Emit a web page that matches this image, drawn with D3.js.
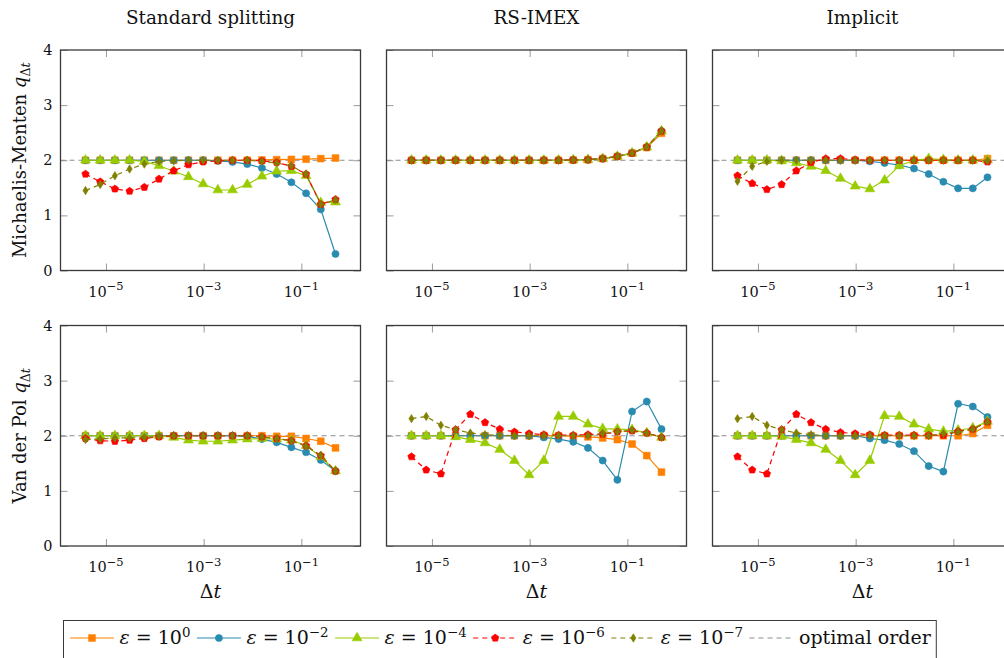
<!DOCTYPE html>
<html><head><meta charset="utf-8">
<script src="https://cdn.jsdelivr.net/npm/d3@7"></script>
<style>
html,body{margin:0;padding:0;background:#fff;overflow:hidden}
svg{display:block;font-family:"DejaVu Serif",serif;}
</style></head><body>
<svg id="chart" width="1004" height="658"></svg>
<script>
// step sizes Δt = 2^-18 ... 2^-1
const stepSizes = [3.814697265625e-6, 7.62939453125e-6, 1.52587890625e-5, 3.0517578125e-5,
  6.103515625e-5, 1.220703125e-4, 2.44140625e-4, 4.8828125e-4, 9.765625e-4, 1.953125e-3,
  3.90625e-3, 7.8125e-3, 0.015625, 0.03125, 0.0625, 0.125, 0.25, 0.5];

const columnTitles = ["Standard splitting", "RS-IMEX", "Implicit"];
const rowLabels = ["Michaelis-Menten", "Van der Pol"];
const xTickValues = [1e-5, 1e-3, 1e-1];
const xTickExponents = ["\u22125", "\u22123", "\u22121"];
const yTickValues = [0, 1, 2, 3, 4];
const optimalOrder = 2;

// Michaelis-Menten, standard splitting
const mmStd_e0 = [2,2,2,2,2,2,2,2,2,2,2,2,2.005,2.01,2.015,2.02,2.03,2.04];
const mmStd_e2 = [2,2,2,2,2,2,2,2,2,1.99,1.97,1.93,1.86,1.75,1.60,1.40,1.11,0.30];
const mmStd_e4 = [2,2,2,2,1.98,1.90,1.80,1.70,1.57,1.46,1.46,1.56,1.71,1.80,1.81,1.72,1.23,1.24];
const mmStd_e6 = [1.75,1.61,1.48,1.44,1.51,1.66,1.81,1.92,1.97,1.99,2,2,1.99,1.96,1.89,1.75,1.20,1.29];
const mmStd_e7 = [1.45,1.56,1.72,1.84,1.93,1.98,1.99,2,2,2,2,2,1.98,1.95,1.90,1.75,1.20,1.28];

// Michaelis-Menten, RS-IMEX
const mmRs_e0 = [2,2,2,2,2,2,2,2,2,2,2,2.005,2.01,2.03,2.07,2.13,2.23,2.49];
const mmRs_e2 = [2,2,2,2,2,2,2,2,2,2,2,2.005,2.01,2.03,2.07,2.13,2.24,2.53];
const mmRs_e4 = [2,2,2,2,2,2,2,2,2,2,2,2.005,2.01,2.03,2.07,2.13,2.24,2.53];
const mmRs_e6 = [2,2,2,2,2,2,2,2,2,2,2,2.005,2.01,2.03,2.07,2.13,2.24,2.53];
const mmRs_e7 = [2,2,2,2,2,2,2,2,2,2,2,2.005,2.01,2.03,2.07,2.13,2.24,2.53];

// Michaelis-Menten, implicit
const mmImp_e0 = [2,2,2,2,2,2,2,2,2,2,2,2,2,2,2,2,2,2.03];
const mmImp_e2 = [2,2,2,2,2,2,2,2,2,1.98,1.95,1.91,1.85,1.75,1.61,1.49,1.49,1.69];
const mmImp_e4 = [2,2,2,1.99,1.95,1.89,1.81,1.67,1.53,1.48,1.64,1.90,2,2.03,2.01,2,2,2];
const mmImp_e6 = [1.72,1.58,1.47,1.56,1.81,1.96,2.03,2.03,2.01,2,2,2,2,2,2,2,2,1.97];
const mmImp_e7 = [1.62,1.89,1.98,2,2,2,2,2,2,2,2,2,2,2,2,2,2,1.99];

// Van der Pol, standard splitting
const vdpStd_e0 = [2,2,2,2,2,2,2,2,2,2,2,2,2,1.99,1.99,1.95,1.90,1.78];
const vdpStd_e2 = [2,2,2,2,2,2,2,2,2,2,2,1.99,1.94,1.88,1.79,1.70,1.56,1.36];
const vdpStd_e4 = [2,2,2,2,2,2,1.97,1.92,1.90,1.90,1.92,1.94,1.95,1.94,1.92,1.82,1.62,1.36];
const vdpStd_e6 = [1.95,1.91,1.90,1.92,1.95,1.98,2,2,2,2,2,2,1.98,1.95,1.91,1.82,1.64,1.36];
const vdpStd_e7 = [1.93,1.94,1.96,1.96,1.97,1.99,2,2,2,2,2,2,1.98,1.95,1.91,1.81,1.64,1.36];

// Van der Pol, RS-IMEX
const vdpRs_e0 = [2,2,2,2,2,2,2,2,2,2,2,1.99,1.98,1.96,1.93,1.85,1.64,1.34];
const vdpRs_e2 = [2,2,2,2,2,2,2,2,2,1.97,1.94,1.89,1.78,1.55,1.20,2.44,2.62,2.12];
const vdpRs_e4 = [2,2,2,1.98,1.93,1.87,1.75,1.55,1.29,1.55,2.35,2.35,2.21,2.13,2.12,2.11,2.05,1.97];
const vdpRs_e6 = [1.62,1.38,1.31,2.11,2.39,2.24,2.12,2.07,2.04,2.02,2.01,2.01,2.02,2.03,2.07,2.09,2.05,1.97];
const vdpRs_e7 = [2.31,2.35,2.19,2.11,2.05,2.02,2.01,2,2,2,2,2,2,2.04,2.07,2.10,2.05,1.97];

// Van der Pol, implicit
const vdpImp_e0 = [2,2,2,2,2,2,2,2,2,2,2,2,2,2,2,2,2.04,2.19];
const vdpImp_e2 = [2,2,2,2,2,2,2,2,2,1.95,1.92,1.85,1.72,1.45,1.35,2.58,2.53,2.34];
const vdpImp_e4 = [2,2,2,1.99,1.93,1.87,1.75,1.55,1.29,1.55,2.36,2.35,2.21,2.12,2.08,2.10,2.14,2.26];
const vdpImp_e6 = [1.62,1.38,1.31,2.11,2.39,2.24,2.12,2.06,2.04,2.02,2.01,2.01,2.01,2.01,2.01,2.08,2.12,2.25];
const vdpImp_e7 = [2.31,2.35,2.19,2.11,2.05,2.02,2,2,2,2,2,2,2,2,2.04,2.07,2.12,2.25];

const seriesNames = ["0", "\u22122", "\u22124", "\u22126", "\u22127"];
const seriesColors = ["#ff8000", "#2a8bb0", "#99cc00", "#ff0000", "#808000"];
const seriesDash = [null, null, null, "5,4", "5,4"];
const seriesMarkers = ["square", "circle", "triangle", "pentagon", "diamond"];

const panelData = [
  [[mmStd_e0, mmStd_e2, mmStd_e4, mmStd_e6, mmStd_e7],
   [mmRs_e0, mmRs_e2, mmRs_e4, mmRs_e6, mmRs_e7],
   [mmImp_e0, mmImp_e2, mmImp_e4, mmImp_e6, mmImp_e7]],
  [[vdpStd_e0, vdpStd_e2, vdpStd_e4, vdpStd_e6, vdpStd_e7],
   [vdpRs_e0, vdpRs_e2, vdpRs_e4, vdpRs_e6, vdpRs_e7],
   [vdpImp_e0, vdpImp_e2, vdpImp_e4, vdpImp_e6, vdpImp_e7]]
];

const svg = d3.select("#chart");
const panelW = 300, panelH = 220.5;
const colX = [60.5, 386.5, 712.5];
const rowY = [50, 325.5];
const frameColor = "#3a3a3a";
const tickColor = "#9a9a9a";
const textColor = "#111";

const x = d3.scaleLog().domain([Math.pow(10, -5.93), Math.pow(10, 0.2107)]).range([0, panelW]);
const y = d3.scaleLinear().domain([0, 4]).range([panelH, 0]);

function markerPath(kind) {
  if (kind === "square") return d3.symbol(d3.symbolSquare, 46)();
  if (kind === "circle") return d3.symbol(d3.symbolCircle, 40)();
  if (kind === "triangle") return d3.symbol(d3.symbolTriangle, 42)();
  if (kind === "pentagon") {
    const r = 3.9, pts = [];
    for (let k = 0; k < 5; k++) {
      const a = -Math.PI / 2 + k * 2 * Math.PI / 5;
      pts.push([r * Math.cos(a), r * Math.sin(a)]);
    }
    return "M" + pts.map(p => p.join(",")).join("L") + "Z";
  }
  // diamond
  return "M0,-4.2L2.6,0L0,4.2L-2.6,0Z";
}

function drawMarker(g, kind, color, cx, cy) {
  g.append("path").attr("d", markerPath(kind))
    .attr("transform", `translate(${cx},${cy})`)
    .attr("fill", color).attr("stroke", color).attr("stroke-width", 0.6);
}

const line = d3.line().x(d => x(d[0])).y(d => y(d[1]));

panelData.forEach((row, ri) => {
  row.forEach((seriesList, ci) => {
    const g = svg.append("g").attr("transform", `translate(${colX[ci]},${rowY[ri]})`);

    // inner ticks on all four sides
    const xAxisB = d3.axisBottom(x).tickValues(xTickValues).tickSizeInner(-7).tickSizeOuter(0).tickFormat("");
    const xAxisT = d3.axisTop(x).tickValues(xTickValues).tickSizeInner(-7).tickSizeOuter(0).tickFormat("");
    const yAxisL = d3.axisLeft(y).tickValues(yTickValues).tickSizeInner(-7).tickSizeOuter(0).tickFormat("");
    const yAxisR = d3.axisRight(y).tickValues(yTickValues).tickSizeInner(-7).tickSizeOuter(0).tickFormat("");
    [[xAxisB, `translate(0,${panelH})`], [xAxisT, "translate(0,0)"],
     [yAxisL, "translate(0,0)"], [yAxisR, `translate(${panelW},0)`]].forEach(([ax, tr]) => {
      const a = g.append("g").attr("transform", tr).call(ax);
      a.select(".domain").remove();
      a.selectAll(".tick line").attr("stroke", tickColor).attr("stroke-width", 1);
    });

    // optimal order reference line
    g.append("line").attr("x1", 0).attr("x2", panelW)
      .attr("y1", y(optimalOrder)).attr("y2", y(optimalOrder))
      .attr("stroke", "#8c8c8c").attr("stroke-width", 1).attr("stroke-dasharray", "5,4");

    seriesList.forEach((vals, si) => {
      const pts = stepSizes.map((dt, i) => [dt, vals[i]]);
      const p = g.append("path").datum(pts).attr("d", line)
        .attr("fill", "none").attr("stroke", seriesColors[si]).attr("stroke-width", 1.2);
      if (seriesDash[si]) p.attr("stroke-dasharray", seriesDash[si]);
      pts.forEach(d => drawMarker(g, seriesMarkers[si], seriesColors[si], x(d[0]), y(d[1])));
    });

    // frame
    g.append("rect").attr("x", 0).attr("y", 0).attr("width", panelW).attr("height", panelH)
      .attr("fill", "none").attr("stroke", frameColor).attr("stroke-width", 1.3);

    // x tick labels
    xTickValues.forEach((v, k) => {
      const t = g.append("text").attr("x", x(v)).attr("y", panelH + 26)
        .attr("text-anchor", "middle").attr("font-size", 14.5).attr("fill", textColor);
      t.append("tspan").text("10");
      t.append("tspan").attr("dy", -6.5).attr("font-size", 11.5).text(xTickExponents[k]);
    });

    // y tick labels on the first column
    if (ci === 0) {
      yTickValues.forEach(v => {
        g.append("text").attr("x", -8).attr("y", y(v) + 5)
          .attr("text-anchor", "end").attr("font-size", 14.5).attr("fill", textColor).text(v);
      });
    }

    // column titles
    if (ri === 0) {
      svg.append("text").attr("x", colX[ci] + panelW / 2).attr("y", 24)
        .attr("text-anchor", "middle").attr("font-size", 18.4).attr("fill", textColor)
        .text(columnTitles[ci]);
    }
    // Δt axis labels
    if (ri === 1) {
      const t = svg.append("text").attr("x", colX[ci] + panelW / 2).attr("y", rowY[ri] + panelH + 52)
        .attr("text-anchor", "middle").attr("font-size", 19).attr("fill", textColor);
      t.append("tspan").text("\u0394");
      t.append("tspan").attr("font-style", "italic").text("t");
    }
  });

  // row labels
  const lbl = svg.append("text")
    .attr("transform", `translate(26,${rowY[ri] + panelH / 2}) rotate(-90)`)
    .attr("text-anchor", "middle").attr("font-size", 18).attr("fill", textColor);
  lbl.append("tspan").text(rowLabels[ri] + " ");
  lbl.append("tspan").attr("font-style", "italic").text("q");
  lbl.append("tspan").attr("dy", 3.5).attr("font-size", 12.6).text("\u0394");
  lbl.append("tspan").attr("font-size", 12.6).attr("font-style", "italic").text("t");
});

// legend
const leg = svg.append("g");
const legY = 638;
const legFont = 19;
let cx = 70;
const entries = seriesNames.map((n, i) => ({kind: "eps", exp: n, i}));
entries.push({kind: "opt"});
entries.forEach(e => {
  const color = e.kind === "opt" ? "#8c8c8c" : seriesColors[e.i];
  const ln = leg.append("line").attr("x1", cx).attr("x2", cx + 44).attr("y1", legY).attr("y2", legY)
    .attr("stroke", color).attr("stroke-width", 1.2);
  if (e.kind === "opt" || seriesDash[e.i]) ln.attr("stroke-dasharray", "5,4");
  if (e.kind === "eps") drawMarker(leg, seriesMarkers[e.i], color, cx + 22, legY);
  cx += 49.5;
  const t = leg.append("text").attr("x", cx).attr("y", legY + 6).attr("font-size", legFont).attr("fill", textColor);
  if (e.kind === "eps") {
    t.append("tspan").attr("font-style", "italic").text("\u03b5");
    t.append("tspan").text(" = 10");
    t.append("tspan").attr("dy", -7.5).attr("font-size", 13.4).text(e.exp);
  } else {
    t.text("optimal order");
  }
  cx += t.node().getComputedTextLength() + 6.5;
});
leg.insert("rect", ":first-child").attr("x", 63.5).attr("y", 620.5).attr("width", cx - 63.5 - 1).attr("height", 45)
  .attr("fill", "#fff").attr("stroke", frameColor).attr("stroke-width", 1);
</script>
</body></html>
